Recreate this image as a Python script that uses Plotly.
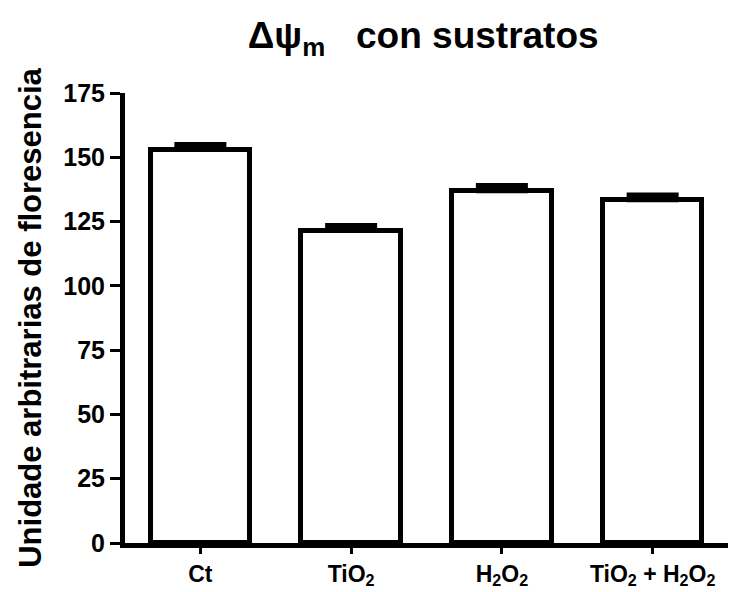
import plotly.graph_objects as go

categories = ["Ct", "TiO<sub>2</sub>", "H<sub>2</sub>O<sub>2</sub>", "TiO<sub>2</sub> + H<sub>2</sub>O<sub>2</sub>"]
values = [153.0, 121.5, 137.0, 133.5]
errors = [2.0, 2.0, 2.0, 1.8]
y_ticks = [0, 25, 50, 75, 100, 125, 150, 175]

FONT = "Liberation Sans, Arial, sans-serif"

fig = go.Figure()
fig.add_trace(go.Bar(
    x=list(range(len(categories))),
    y=values,
    width=0.66,
    marker=dict(color="white", line=dict(color="black", width=5)),
    error_y=dict(type="data", array=errors, symmetric=False, arrayminus=[0]*4,
                 color="black", thickness=5, width=26),
    showlegend=False,
))

fig.update_layout(
    width=740, height=584,
    margin=dict(l=117, r=20, t=85, b=49),
    paper_bgcolor="white", plot_bgcolor="white",
    title=dict(text="<b>Δψ<sub>m</sub>   con sustratos</b>", x=0.561, xanchor="center",
               y=0.954, yanchor="middle",
               font=dict(family=FONT, size=37, color="black")),
    font=dict(family=FONT, color="black"),
    bargap=0,
)
fig.update_xaxes(
    range=[-0.5, 3.5],
    tickmode="array", tickvals=list(range(len(categories))),
    ticktext=["<b>" + c + "</b>" for c in categories],
    showline=True, linecolor="black", linewidth=5,
    ticks="outside", ticklen=6, tickwidth=3, tickcolor="black",
    tickfont=dict(family=FONT, size=23, color="black"),
    showgrid=False, zeroline=False, automargin=False,
)
fig.update_yaxes(
    range=[0, 175],
    tickmode="array", tickvals=y_ticks,
    ticktext=["<b>%d</b>" % t for t in y_ticks],
    showline=True, linecolor="black", linewidth=5,
    ticks="outside", ticklen=10, tickwidth=3, tickcolor="black",
    tickfont=dict(family=FONT, size=25, color="black"),
    title=dict(text="<b>Unidade arbitrarias de floresencia</b>",
               font=dict(family=FONT, size=31, color="black"), standoff=14),
    showgrid=False, zeroline=False, automargin=False,
)

fig.write_html("out.html")
